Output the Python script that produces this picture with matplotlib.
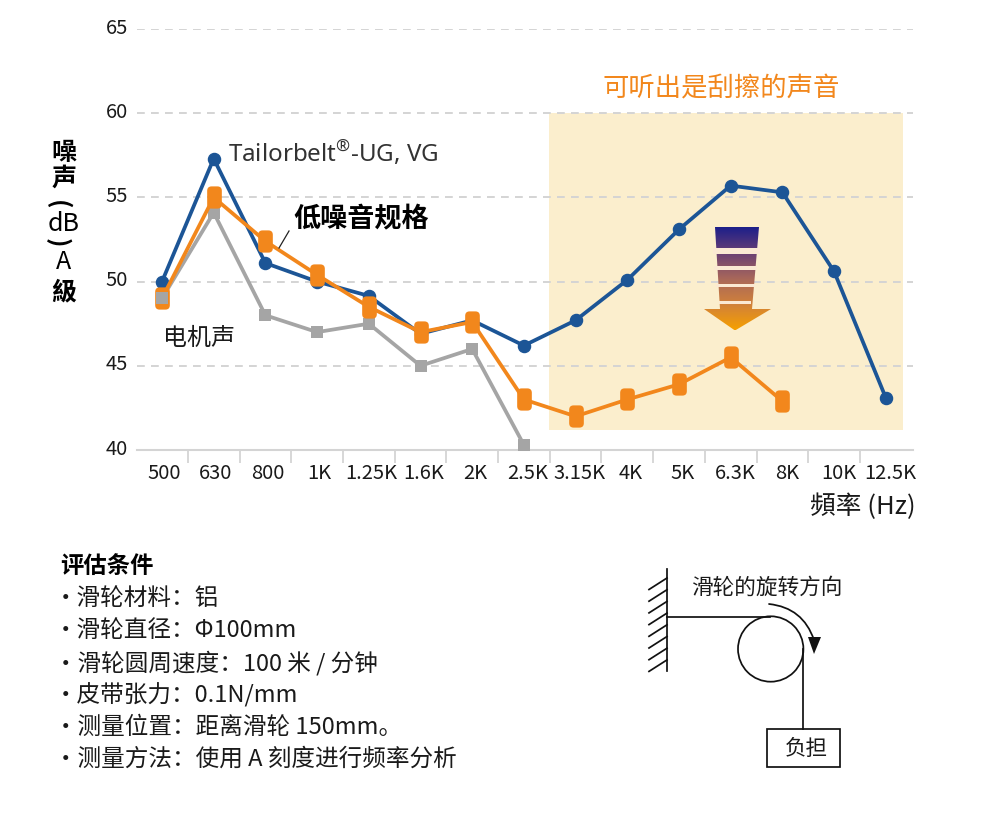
import numpy as np
import matplotlib
matplotlib.use('Agg')
import matplotlib.pyplot as plt
from matplotlib.path import Path
from matplotlib.patches import Rectangle, Polygon, Circle, FancyArrowPatch
from matplotlib.colors import LinearSegmentedColormap
from matplotlib.transforms import ScaledTranslation

plt.rcParams['font.family'] = ['Noto Sans CJK SC', 'DejaVu Sans']

categories = ['500', '630', '800', '1K', '1.25K', '1.6K', '2K', '2.5K', '3.15K',
              '4K', '5K', '6.3K', '8K', '10K', '12.5K']
blue_vals = [50.0, 57.3, 51.1, 50.0, 49.15, 46.9, 47.7, 46.2, 47.7, 50.1, 53.1, 55.7, 55.3, 50.6, 43.1]
orange_vals = [49.0, 55.0, 52.4, 50.4, 48.5, 47.0, 47.6, 43.0, 42.0, 43.0, 43.9, 45.5, 42.9]
gray_vals = [49.0, 54.1, 48.0, 47.0, 47.5, 45.0, 46.0, 40.3]
yticks = [40, 45, 50, 55, 60, 65]
conditions = ['・滑轮材料：铝', '・滑轮直径：Φ100mm', '・滑轮圆周速度：100 米 / 分钟', '・皮带张力：0.1N/mm',
              '・测量位置：距离滑轮 150mm。', '・测量方法：使用 A 刻度进行频率分析']

W, H = 1000, 813
BLUE, ORANGE, GRAY = '#1c5596', '#f2871c', '#a5a5a5'
GRID = '#d4d4d4'
TXT = '#1a1a1a'
fig = plt.figure(figsize=(W / 100, H / 100), dpi=100, facecolor='white')

under = fig.add_axes([0, 0, 1, 1], zorder=0)
over = fig.add_axes([0, 0, 1, 1], zorder=2)
for a in (under, over):
    a.set_xlim(0, W); a.set_ylim(H, 0); a.axis('off'); a.patch.set_visible(False)

L, R, T, B = 137, 913, 29, 450
ax = fig.add_axes([L / W, 1 - B / H, (R - L) / W, (B - T) / H], zorder=1)
ax.patch.set_visible(False)
ax.set_ylim(40, 65)
x0 = 162; dx = 51.7
ax.set_xlim((L - x0) / dx, (R - x0) / dx)
for s in ('top', 'left', 'right'):
    ax.spines[s].set_visible(False)
ax.spines['bottom'].set_color(GRID); ax.spines['bottom'].set_linewidth(1.5)
ax.set_yticks(yticks)
ax.set_yticklabels([str(v) for v in yticks], fontsize=14.5, color=TXT, va='center')
ax.tick_params(axis='y', length=0, pad=6.5)
for lab in ax.get_yticklabels():
    lab.set_transform(lab.get_transform() + ScaledTranslation(0, 1.0 / 100, fig.dpi_scale_trans))
ax.yaxis.grid(True, color=GRID, linestyle=(0, (4, 3.2)), linewidth=1.4)
ax.set_axisbelow(True)
xs = np.arange(len(categories))
ax.set_xticks(xs)
ax.set_xticklabels(categories, fontsize=14.5, color=TXT)
ax.tick_params(axis='x', which='major', length=0, pad=9.5)
for i, lab in enumerate(ax.get_xticklabels()):
    lab.set_transform(lab.get_transform() + ScaledTranslation((2 + 0.2 * i) / 100, 0, fig.dpi_scale_trans))
ax.set_xticks(xs[:-1] + 0.5, minor=True)
ax.tick_params(axis='x', which='minor', length=9.5, width=1.3, color=GRID)

# rounded vertical pill marker
w, h, r = 0.66, 1.0, 0.4
pts = [(-w+r, -h), (w-r, -h), (w, -h), (w, -h+r), (w, h-r), (w, h), (w-r, h), (-w+r, h), (-w, h), (-w, h-r),
       (-w, -h+r), (-w, -h), (-w+r, -h), (-w+r, -h)]
codes = [Path.MOVETO, Path.LINETO, Path.CURVE3, Path.CURVE3, Path.LINETO, Path.CURVE3, Path.CURVE3, Path.LINETO,
         Path.CURVE3, Path.CURVE3, Path.LINETO, Path.CURVE3, Path.CURVE3, Path.CLOSEPOLY]
pill = Path(pts, codes)

ax.plot(xs[:len(blue_vals)], blue_vals, color=BLUE, lw=2.7, marker='o', ms=8.7, clip_on=False, zorder=3)
ax.plot(xs[:len(gray_vals)], gray_vals, color=GRAY, lw=2.7, marker='s', ms=8, mew=0, clip_on=False, zorder=4)
ax.plot(xs[:len(orange_vals)], orange_vals, color=ORANGE, lw=2.7, marker=pill, ms=16, mew=0, clip_on=False, zorder=5)
# the 500 Hz grey marker sits on top in the reference
ax.plot(xs[:1], gray_vals[:1], color=GRAY, marker='s', ms=8, mew=0, ls='none', zorder=6)

# shaded band
under.add_patch(Rectangle((549, 113), 354, 317, fc='#fbeecd', ec='none'))

# gradient arrow
cmap = LinearSegmentedColormap.from_list('g', ['#1c1f8a', '#6a3f74', '#a8675a', '#d1813a', '#f6a000'])
grad = np.linspace(0, 1, 256).reshape(-1, 1)
im = over.imshow(grad, cmap=cmap, extent=(700, 775, 330, 227), aspect='auto', zorder=2)
clip = Polygon([(715, 227), (759, 227), (752, 309), (771, 309), (735, 330.5), (704, 309), (720, 309)],
               closed=True, transform=over.transData, fc='none', ec='none')
over.add_patch(clip)
im.set_clip_path(clip)
over.set_xlim(0, W); over.set_ylim(H, 0)
for y0, y1, a, b in [(248, 254, 713, 760), (266, 270, 714, 757), (284, 287, 716, 755), (301, 304, 719, 751)]:
    over.add_patch(Rectangle((a, y0), b - a, y1 - y0, fc='#fbe9d3', ec='none', zorder=3))

def t(x, y, s, size=17, weight='normal', ha='left', va='center', color=TXT, **k):
    return over.text(x, y + 1.5, s, fontsize=size, fontweight=weight, ha=ha, va=va, color=color, **k)

# y-axis title, stacked
TC = ['Noto Sans CJK TC', 'DejaVu Sans']
t(64, 152, '噪', size=18, weight='bold', ha='center', color='black', family=TC)
t(64, 177, '声', size=18, weight='bold', ha='center', color='black', family=TC)
t(57, 203, '(', size=18, weight='bold', ha='center', color='black', rotation=-90, rotation_mode='anchor', family=TC)
t(64, 222, 'dB', size=18, ha='center', color='black', family=TC)
t(57, 241, ')', size=18, weight='bold', ha='center', color='black', rotation=-90, rotation_mode='anchor', family=TC)
t(64, 260, 'A', size=18, ha='center', color='black', family=TC)
t(64, 291, '級', size=18, weight='bold', ha='center', color='black', family=TC)

t(721, 87, '可听出是刮擦的声音', size=19, ha='center', color=ORANGE)
t(228, 152, r'Tailorbelt$^{\mathregular{®}}$-UG, VG', size=17.4, color='#333333',
  family=['Noto Sans', 'DejaVu Sans'])
t(293, 218, '低噪音规格', size=19.5, weight='bold', color='black')
over.plot([279, 289], [248, 231], color='#222222', lw=0.9, zorder=6)
t(163, 336, '电机声', size=17.3)
t(916, 505, '頻率 (Hz)', size=18.5, ha='right', family=TC)

# conditions
t(60, 564, '评估条件', size=16.8, weight='bold', color='black')
for i, line in enumerate(conditions):
    t(54, 597 + i * 32.2, line, size=17)

# pulley diagram
lc = '#111111'
LW = 1.25
over.plot([667, 667], [569, 671], color=lc, lw=LW)
for y in np.arange(578, 662, 11.7):
    over.plot([649, 667], [y + 11.5, y], color=lc, lw=LW)
over.plot([667, 770], [617, 617], color=lc, lw=LW)
over.add_patch(Circle((770.7, 649), 32.7, fc='none', ec=lc, lw=LW))
over.plot([803, 803], [649, 729], color=lc, lw=LW)
over.add_patch(Rectangle((767, 729), 73, 38, fc='none', ec=lc, lw=LW))
t(806, 747, '负担', size=15.5, ha='center')
t(767, 586, '滑轮的旋转方向', size=15.6, ha='center')
over.add_patch(FancyArrowPatch((769, 604), (814, 640), connectionstyle='arc3,rad=-0.32', arrowstyle='-', lw=LW, color=lc,
                               shrinkA=0, shrinkB=0))
over.add_patch(Polygon([(808, 637), (821, 637), (814, 654)], closed=True, fc=lc, ec='none'))

fig.savefig('out.png', dpi=100)
